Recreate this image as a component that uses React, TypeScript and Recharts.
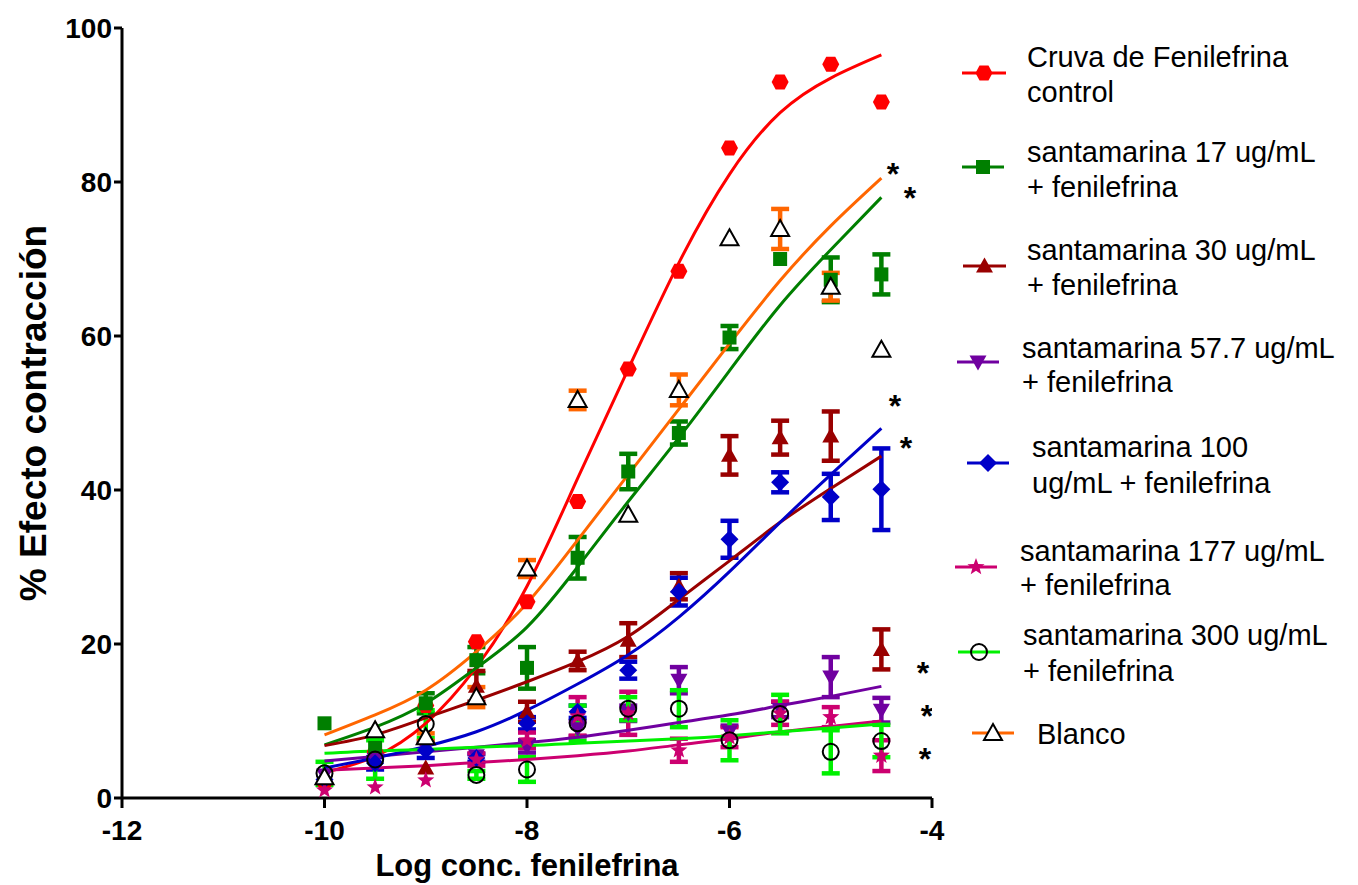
import React from 'react';
import { ComposedChart, Line, Scatter, XAxis, YAxis, ErrorBar } from 'recharts';

// ---------- data ----------
const logConc = [-10, -9.5, -9, -8.5, -8, -7.5, -7, -6.5, -6, -5.5, -5, -4.5];

const controlMean = [2.0, 6.0, 12.0, 20.3, 25.5, 38.5, 55.7, 68.4, 84.4, 93.0, 95.3, 90.4];
const controlErr = [0, 0, 0, 0, 0, 0, 0, 0, 0, 0, 0, 0];
const controlFit = [3.3, 5.4, 9.7, 17.0, 27.5, 41.5, 55.7, 69.5, 81.0, 89.0, 93.5, 96.5];

const s17Mean = [9.7, 6.5, 12.3, 17.9, 16.9, 31.2, 42.4, 47.4, 59.8, 70.0, 67.3, 68.0];
const s17Err = [0, 0, 1.3, 1.7, 2.7, 2.7, 2.3, 1.5, 1.5, 0, 2.9, 2.6];
const s17Fit = [6.9, 9.2, 12.3, 16.9, 22.2, 30.0, 38.5, 46.8, 55.5, 64.0, 71.2, 78.0];

const s30Mean = [2.5, 9.0, 3.9, 14.5, 11.2, 17.8, 20.5, 27.5, 44.5, 46.8, 47.0, 19.3];
const s30Err = [0, 0, 0, 2.0, 1.3, 1.2, 2.2, 1.7, 2.5, 2.2, 3.2, 2.6];
const s30Fit = [6.8, 8.2, 10.4, 12.7, 15.1, 17.7, 21.0, 25.8, 30.8, 35.8, 40.2, 44.4];

const s57Mean = [3.0, 5.0, 6.5, 5.5, 6.7, 9.0, 11.0, 15.3, 8.6, 11.5, 15.7, 11.4];
const s57Err = [0, 0, 0, 0, 0.8, 1.0, 1.0, 1.7, 0.8, 1.0, 2.6, 1.6];
const s57Fit = [4.8, 5.4, 6.0, 6.6, 7.2, 7.9, 8.8, 9.8, 10.8, 12.0, 13.2, 14.5];

const s100Mean = [2.4, 4.5, 6.2, 5.2, 9.7, 11.2, 16.6, 26.8, 33.6, 41.0, 39.1, 40.1];
const s100Err = [0, 0.8, 1.0, 0.5, 0.8, 0.8, 1.1, 1.8, 2.4, 1.3, 3.0, 5.3];
const s100Fit = [3.9, 5.2, 6.7, 8.6, 11.4, 14.8, 18.6, 23.5, 29.4, 35.8, 42.0, 48.0];

const s177Mean = [1.0, 1.4, 2.3, 5.0, 7.5, 10.6, 11.0, 6.2, 7.9, 11.0, 10.5, 5.5];
const s177Err = [0, 0, 0, 0.8, 1.0, 2.5, 2.8, 1.5, 1.3, 1.5, 1.3, 2.0];
const s177Fit = [3.6, 3.9, 4.2, 4.6, 5.0, 5.5, 6.1, 6.9, 7.7, 8.6, 9.3, 10.0];

const s300Mean = [3.2, 5.0, 9.6, 3.0, 3.7, 9.7, 11.6, 11.6, 7.5, 10.9, 6.0, 7.4];
const s300Err = [1.5, 2.5, 1.8, 0.5, 1.6, 2.3, 1.5, 2.4, 2.6, 2.5, 2.8, 2.1];
const s300Fit = [5.8, 6.1, 6.3, 6.6, 6.8, 7.1, 7.4, 7.7, 8.1, 8.6, 9.1, 9.6];

const blancoMean = [2.7, 8.8, 7.9, 13.1, 29.8, 51.7, 36.8, 53.0, 72.7, 73.9, 66.4, 58.2];
const blancoErr = [0, 0, 0.5, 1.3, 1.1, 1.2, 0, 2.0, 0, 2.6, 1.8, 0];
const blancoFit = [8.2, 10.8, 14.0, 19.0, 25.3, 33.5, 42.0, 50.5, 59.0, 67.2, 74.3, 80.5];

const seriesNames = [
  ['Cruva de Fenilefrina', 'control'],
  ['santamarina 17 ug/mL', '+ fenilefrina'],
  ['santamarina 30 ug/mL', '+ fenilefrina'],
  ['santamarina 57.7 ug/mL', '+ fenilefrina'],
  ['santamarina 100', 'ug/mL + fenilefrina'],
  ['santamarina 177 ug/mL', '+ fenilefrina'],
  ['santamarina 300 ug/mL', '+ fenilefrina'],
  ['Blanco'],
];

const asteriskX = [-4.385, -4.217, -4.365, -4.257, -4.089, -4.05, -4.07];
const asteriskY = [81.8, 78.7, 51.7, 46.2, 17.0, 11.4, 5.8];

const xTicks = [-12, -10, -8, -6, -4];
const yTicks = [0, 20, 40, 60, 80, 100];

// ---------- styles ----------
const FONT = '"Liberation Sans", Arial, sans-serif';

type MarkerKind = 'hex' | 'square' | 'tri' | 'triDown' | 'diamond' | 'star' | 'circle' | 'openTri';

const seriesStyle: { color: string; marker: MarkerKind; markerColor: string }[] = [
  { color: '#FF0000', marker: 'hex', markerColor: '#FF0000' },
  { color: '#007F00', marker: 'square', markerColor: '#007F00' },
  { color: '#990000', marker: 'tri', markerColor: '#990000' },
  { color: '#7000A0', marker: 'triDown', markerColor: '#7000A0' },
  { color: '#0000C8', marker: 'diamond', markerColor: '#0000C8' },
  { color: '#CC0070', marker: 'star', markerColor: '#CC0070' },
  { color: '#00F000', marker: 'circle', markerColor: '#000000' },
  { color: '#FF6600', marker: 'openTri', markerColor: '#000000' },
];

const means = [controlMean, s17Mean, s30Mean, s57Mean, s100Mean, s177Mean, s300Mean, blancoMean];
const errs = [controlErr, s17Err, s30Err, s57Err, s100Err, s177Err, s300Err, blancoErr];
const fits = [controlFit, s17Fit, s30Fit, s57Fit, s100Fit, s177Fit, s300Fit, blancoFit];

const legendLayout = [
  { lineY: 73, x1: 962, x2: 1006, textX: 1027, base: [67, 102] },
  { lineY: 167, x1: 962, x2: 1004, textX: 1027, base: [162, 197] },
  { lineY: 266, x1: 963, x2: 1006, textX: 1027, base: [260, 295] },
  { lineY: 362, x1: 957, x2: 999, textX: 1022, base: [358, 392] },
  { lineY: 463, x1: 967, x2: 1009, textX: 1032, base: [457, 493] },
  { lineY: 567, x1: 955, x2: 997, textX: 1020, base: [561, 595] },
  { lineY: 652, x1: 958, x2: 1000, textX: 1023, base: [645, 681] },
  { lineY: 733, x1: 972, x2: 1014, textX: 1037, base: [744] },
];

function renderMarker(kind: MarkerKind, cx: number, cy: number, color: string, key?: string) {
  switch (kind) {
    case 'hex':
      return (
        <polygon key={key} fill={color}
          points={`${cx - 8.5},${cy} ${cx - 4.5},${cy - 7.5} ${cx + 4.5},${cy - 7.5} ${cx + 8.5},${cy} ${cx + 4.5},${cy + 7.5} ${cx - 4.5},${cy + 7.5}`} />
      );
    case 'square':
      return <rect key={key} x={cx - 7} y={cy - 7} width={14} height={14} fill={color} />;
    case 'tri':
      return <polygon key={key} fill={color} points={`${cx},${cy - 8.5} ${cx + 8.5},${cy + 6.5} ${cx - 8.5},${cy + 6.5}`} />;
    case 'triDown':
      return <polygon key={key} fill={color} points={`${cx},${cy + 8.5} ${cx + 8.5},${cy - 6.5} ${cx - 8.5},${cy - 6.5}`} />;
    case 'diamond':
      return <polygon key={key} fill={color} points={`${cx},${cy - 9} ${cx + 9},${cy} ${cx},${cy + 9} ${cx - 9},${cy}`} />;
    case 'star': {
      const pts: string[] = [];
      for (let i = 0; i < 10; i++) {
        const r = i % 2 === 0 ? 9 : 3.8;
        const a = -Math.PI / 2 + (i * Math.PI) / 5;
        pts.push(`${cx + r * Math.cos(a)},${cy + r * Math.sin(a)}`);
      }
      return <polygon key={key} fill={color} points={pts.join(' ')} />;
    }
    case 'circle':
      return <circle key={key} cx={cx} cy={cy} r={8} fill="none" stroke={color} strokeWidth={2} />;
    case 'openTri':
      return (
        <polygon key={key} fill="#FFFFFF" stroke={color} strokeWidth={2}
          points={`${cx},${cy - 9} ${cx + 9},${cy + 7} ${cx - 9},${cy + 7}`} />
      );
  }
  return null;
}

const seriesData = means.map((m, s) =>
  logConc.map((x, i) => ({ x, y: m[i], err: errs[s][i] > 0 ? errs[s][i] : null }))
);
const fitData = fits.map((f) => logConc.map((x, i) => ({ x, y: f[i] })));
const asteriskData = asteriskX.map((x, i) => ({ x, y: asteriskY[i] }));

function Legend() {
  return (
    <svg width={1358} height={885} style={{ position: 'absolute', left: 0, top: 0, pointerEvents: 'none' }}>
      {seriesNames.map((lines, s) => {
        const L = legendLayout[s];
        const st = seriesStyle[s];
        const cx = (L.x1 + L.x2) / 2;
        return (
          <g key={s}>
            <line x1={L.x1} x2={L.x2} y1={L.lineY} y2={L.lineY} stroke={st.color} strokeWidth={3} />
            {renderMarker(st.marker, cx, L.lineY, st.markerColor)}
            {lines.map((t, j) => (
              <text key={j} x={L.textX} y={L.base[j]} fontFamily={FONT} fontSize={29} fill="#000">
                {t}
              </text>
            ))}
          </g>
        );
      })}
    </svg>
  );
}

export default function App() {
  return (
    <div style={{ position: 'absolute', left: 0, top: 0, width: 1358, height: 885, background: '#fff' }}>
      <ComposedChart width={1358} height={885} margin={{ top: 28, right: 426, bottom: 0, left: 0 }}>
        <XAxis
          type="number"
          dataKey="x"
          domain={[-12, -4]}
          ticks={xTicks}
          height={87}
          allowDataOverflow
          axisLine={{ stroke: '#000', strokeWidth: 3 }}
          tickLine={{ stroke: '#000', strokeWidth: 3 }}
          tickSize={10}
          tickMargin={12}
          tick={{ fill: '#000', fontSize: 28, fontWeight: 'bold', fontFamily: FONT }}
          label={{
            content: (p: any) => {
              const vb = p.viewBox || { x: 122, width: 810 };
              return (
                <text x={vb.x + vb.width / 2} y={876} textAnchor="middle" fontFamily={FONT}
                  fontWeight="bold" fontSize={31} fill="#000">
                  Log conc. fenilefrina
                </text>
              );
            },
          }}
        />
        <YAxis
          type="number"
          domain={[0, 100]}
          ticks={yTicks}
          width={122}
          allowDataOverflow
          axisLine={{ stroke: '#000', strokeWidth: 3 }}
          tickLine={{ stroke: '#000', strokeWidth: 3 }}
          tickSize={8}
          tickMargin={2}
          tick={{ fill: '#000', fontSize: 28, fontWeight: 'bold', fontFamily: FONT }}
          label={{
            content: (p: any) => {
              const vb = p.viewBox || { y: 28, height: 770 };
              const cy = vb.y + vb.height / 2;
              return (
                <text x={46} y={cy} textAnchor="middle" transform={`rotate(-90, 46, ${cy})`}
                  fontFamily={FONT} fontWeight="bold" fontSize={37} fill="#000">
                  % Efecto contracción
                </text>
              );
            },
          }}
        />
        {seriesData.map((d, s) => (
          <Scatter
            key={`sc${s}`}
            name={seriesNames[s].join(' ')}
            data={d}
            dataKey="y"
            isAnimationActive={false}
            shape={(p: any) => renderMarker(seriesStyle[s].marker, p.cx, p.cy, seriesStyle[s].markerColor)}
          >
            <ErrorBar dataKey="err" direction="y" width={9} strokeWidth={4.5} stroke={seriesStyle[s].color} />
          </Scatter>
        ))}
        {fitData.map((d, s) => (
          <Line
            key={`ln${s}`}
            data={d}
            dataKey="y"
            type="natural"
            stroke={seriesStyle[s].color}
            strokeWidth={3}
            dot={false}
            activeDot={false}
            legendType="none"
            isAnimationActive={false}
          />
        ))}
        <Scatter
          data={asteriskData}
          dataKey="y"
          isAnimationActive={false}
          shape={(p: any) => (
            <text x={p.cx} y={p.cy + 17} textAnchor="middle" fontFamily={FONT} fontWeight="bold" fontSize={32} fill="#000">
              *
            </text>
          )}
        />
      </ComposedChart>
      <Legend />
    </div>
  );
}
